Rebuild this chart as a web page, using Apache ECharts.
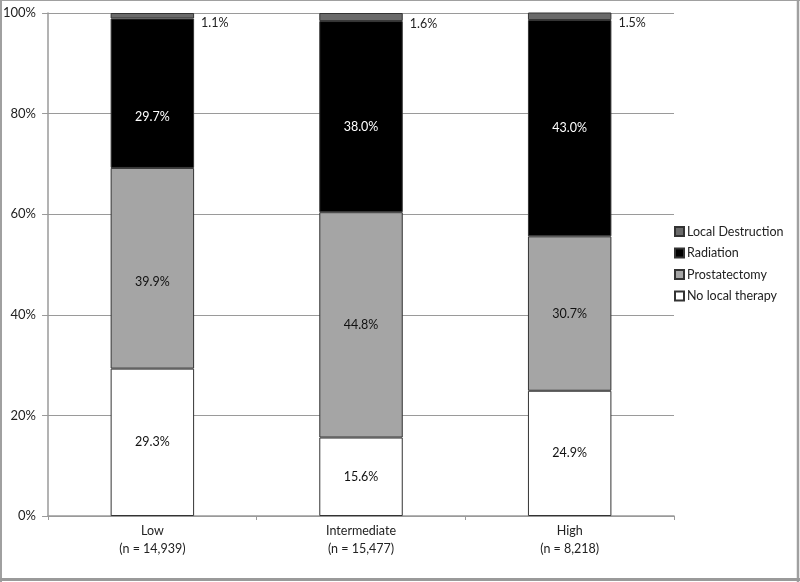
<!DOCTYPE html>
<html>
<head>
<meta charset="utf-8">
<script src="https://cdn.jsdelivr.net/npm/echarts@6/dist/echarts.min.js"></script>
<style>
html,body{margin:0;padding:0;background:#fff;}
#c{width:800px;height:582px;}
</style>
</head>
<body>
<div id="c"></div>
<script>
const categories = ['Low\n(n = 14,939)', 'Intermediate\n(n = 15,477)', 'High\n(n = 8,218)'];
const noLocal = [29.3, 15.6, 24.9];
const prostatectomy = [39.9, 44.8, 30.7];
const radiation = [29.7, 38.0, 43.0];
const localDestruction = [1.1, 1.6, 1.5];
const yTicks = [0, 20, 40, 60, 80, 100];

// label nudges (manually moved labels in the original)
const labelNudge = {
  'Radiation': [[0, 24], [0, 10], [0, 0]],
  'Prostatectomy': [[0, 14], [0, 0], [0, 0]]
};

const font = 'Lato, "Noto Sans", sans-serif';
const chart = echarts.init(document.getElementById('c'));

function seriesDef(name, data, color, labelColor, extra) {
  const nudges = labelNudge[name];
  const items = data.map((v, i) => nudges ? { value: v, label: { offset: nudges[i] } } : v);
  return Object.assign({
    name: name,
    type: 'bar',
    stack: 'total',
    data: items,
    barWidth: '40%',
    itemStyle: { color: color, borderColor: '#333333', borderWidth: 1 },
    label: {
      show: true,
      position: 'inside',
      formatter: p => p.value.toFixed(1) + '%',
      color: labelColor,
      fontFamily: font,
      fontSize: 12.5
    },
    emphasis: { disabled: true }
  }, extra || {});
}

chart.setOption({
  animation: false,
  backgroundColor: '#fff',
  textStyle: { fontFamily: font },
  grid: { left: 46, right: 126, top: 13, bottom: 66 },
  legend: {
    orient: 'vertical',
    left: 669,
    top: 220,
    itemWidth: 9,
    itemHeight: 9,
    itemGap: 8.5,
    icon: 'rect',
    data: ['Local Destruction', 'Radiation', 'Prostatectomy', 'No local therapy'],
    textStyle: { fontFamily: font, fontSize: 12.5, lineHeight: 13, color: '#222', padding: [0, 0, 0, -2] }
  },
  xAxis: {
    type: 'category',
    data: categories,
    axisLine: { lineStyle: { color: '#9a9a9a', width: 1.5 } },
    axisTick: { show: true, length: 4, lineStyle: { color: '#9a9a9a' } },
    axisLabel: { color: '#222', fontFamily: font, fontSize: 12.5, lineHeight: 18, margin: 6 }
  },
  yAxis: {
    type: 'value',
    min: 0,
    max: 100,
    interval: 20,
    axisLine: { show: true, lineStyle: { color: '#9a9a9a', width: 1.5 } },
    axisTick: { show: true, length: 6, lineStyle: { color: '#9a9a9a' } },
    axisLabel: { formatter: v => yTicks.includes(v) ? v + '%' : '', color: '#222', fontFamily: font, fontSize: 13, margin: 12 },
    splitLine: { lineStyle: { color: '#9a9a9a', width: 1 } }
  },
  series: [
    seriesDef('No local therapy', noLocal, '#ffffff', '#111'),
    seriesDef('Prostatectomy', prostatectomy, '#a5a5a5', '#111'),
    seriesDef('Radiation', radiation, '#000000', '#ffffff'),
    seriesDef('Local Destruction', localDestruction, '#6a6a6a', '#222', {
      label: {
        show: true,
        position: 'right',
        offset: [2, 7],
        formatter: p => p.value.toFixed(1) + '%',
        color: '#222',
        fontFamily: font,
        fontSize: 12.5
      }
    })
  ],
  graphic: [
    { type: 'line', shape: { x1: 0, y1: 0.5, x2: 800, y2: 0.5 }, style: { stroke: '#a0a0a0', lineWidth: 1 }, silent: true },
    { type: 'line', shape: { x1: 1, y1: 0, x2: 1, y2: 582 }, style: { stroke: '#a0a0a0', lineWidth: 2 }, silent: true },
    { type: 'line', shape: { x1: 798, y1: 0, x2: 798, y2: 582 }, style: { stroke: '#a0a0a0', lineWidth: 2.5 }, silent: true },
    { type: 'line', shape: { x1: 0, y1: 579.5, x2: 800, y2: 579.5 }, style: { stroke: '#9a9a9a', lineWidth: 3 }, silent: true }
  ]
});
</script>
</body>
</html>
